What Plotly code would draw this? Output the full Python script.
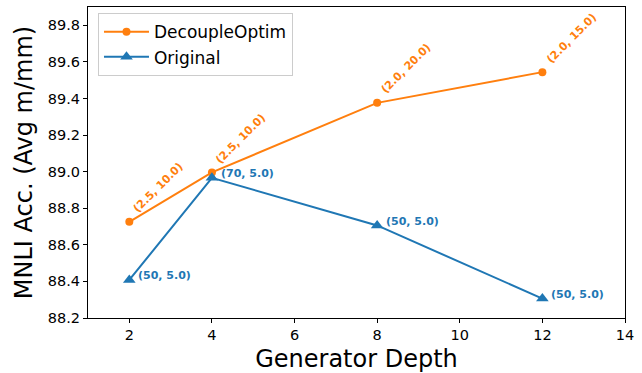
import plotly.graph_objects as go

depth = [2, 4, 8, 12]
decouple_acc = [88.726, 88.996, 89.376, 89.544]
original_acc = [88.408, 88.966, 88.706, 88.306]
decouple_labels = ["(2.5, 10.0)", "(2.5, 10.0)", "(2.0, 20.0)", "(2.0, 15.0)"]
original_labels = ["(50, 5.0)", "(70, 5.0)", "(50, 5.0)", "(50, 5.0)"]
x_ticks = [2, 4, 6, 8, 10, 12, 14]
y_ticks = [88.2, 88.4, 88.6, 88.8, 89.0, 89.2, 89.4, 89.6, 89.8]

ORANGE = "#ff7f0e"
BLUE = "#1f77b4"
FONT = "DejaVu Sans"

fig = go.Figure()
fig.add_trace(go.Scatter(
    x=depth, y=decouple_acc, mode="lines+markers", name="DecoupleOptim",
    line=dict(color=ORANGE, width=2), marker=dict(symbol="circle", size=8, color=ORANGE),
))
fig.add_trace(go.Scatter(
    x=depth, y=original_acc, mode="lines+markers", name="Original",
    line=dict(color=BLUE, width=2), marker=dict(symbol="triangle-up", size=11, color=BLUE),
))

for x, y, t in zip(depth, decouple_acc, decouple_labels):
    fig.add_annotation(x=x, y=y, text=f"<b>{t}</b>", showarrow=False, textangle=-45,
                       xanchor="center", yanchor="middle", xshift=29, yshift=34,
                       font=dict(family=FONT, size=11, color=ORANGE))
for x, y, t in zip(depth, original_acc, original_labels):
    fig.add_annotation(x=x, y=y, text=f"<b>{t}</b>", showarrow=False,
                       xanchor="left", yanchor="middle", xshift=7, yshift=4,
                       font=dict(family=FONT, size=11, color=BLUE))

axis_common = dict(showgrid=False, zeroline=False, showline=True, linecolor="black",
                   linewidth=1, mirror=True, ticks="outside", ticklen=4, tickwidth=1,
                   tickcolor="black", tickfont=dict(family=FONT, size=14.5, color="black"))

fig.update_xaxes(range=[1, 14], tickvals=x_ticks, ticktext=[str(v) for v in x_ticks],
                 title=dict(text="Generator Depth", font=dict(family=FONT, size=24, color="black"), standoff=11),
                 **axis_common)
fig.update_yaxes(range=[88.2, 89.9], tickvals=y_ticks, ticktext=[f"{v:.1f}" for v in y_ticks],
                 title=dict(text="MNLI Acc. (Avg m/mm)", font=dict(family=FONT, size=24, color="black"), standoff=8),
                 **axis_common)

fig.update_layout(
    width=642, height=373,
    margin=dict(l=88, r=17, t=7, b=55, autoexpand=False),
    plot_bgcolor="white", paper_bgcolor="white",
    font=dict(family=FONT),
    legend=dict(x=0.0186, y=0.98, xanchor="left", yanchor="top", itemwidth=45,
                bgcolor="rgba(255,255,255,0.8)", bordercolor="#cccccc", borderwidth=1,
                font=dict(family=FONT, size=17, color="black"), tracegroupgap=0),
)

fig.write_html("out.html")
